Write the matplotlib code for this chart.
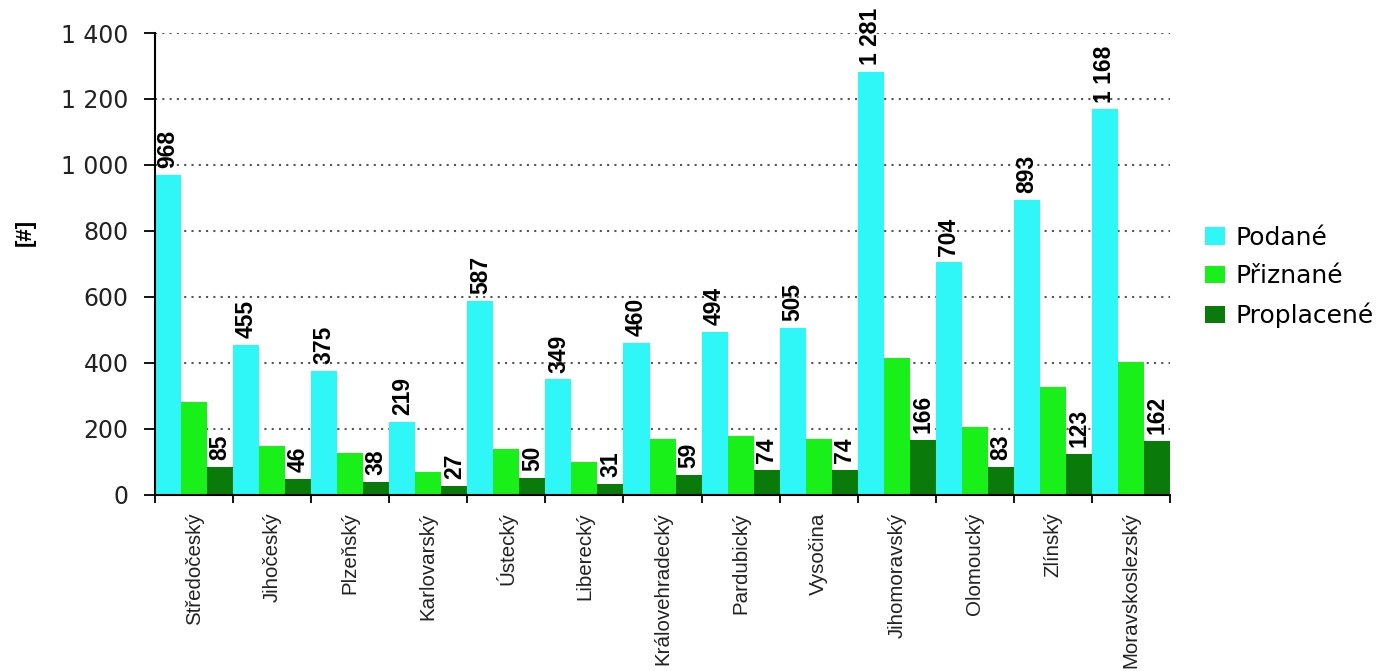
# -*- coding: utf-8 -*-

"""
Output: out.png
Podané / Přiznané / Proplacené by region
"""

### 0 ### Imports

import matplotlib
matplotlib.use("Agg")
import numpy as np
import matplotlib.pyplot as plt
from matplotlib.patches import Patch

plt.rcParams['savefig.facecolor'] = 'white'
plt.rcParams['font.family'] = ['DejaVu Sans']

# data
regions = ["Středočeský", "Jihočeský", "Plzeňský", "Karlovarský", "Ústecký",
           "Liberecký", "Královehradecký", "Pardubický", "Vysočina",
           "Jihomoravský", "Olomoucký", "Zlínský", "Moravskoslezský"]
series_names = ["Podané", "Přiznané", "Proplacené"]
podane = [968, 455, 375, 219, 587, 349, 460, 494, 505, 1281, 704, 893, 1168]
priznane = [280, 147, 125, 69, 137, 99, 167, 177, 167, 415, 204, 325, 402]
proplacene = [85, 46, 38, 27, 50, 31, 59, 74, 74, 166, 83, 123, 162]
yticks = [0, 200, 400, 600, 800, 1000, 1200, 1400]

colors = ['#2ff7f7', '#19f019', '#0a7a0a']
labelled = [True, False, True]


### 1 ### Figure

fig = plt.figure(figsize=(13.83, 6.71), dpi=100)
ax = fig.add_axes([0.1121, 0.263, 0.7339, 0.6878])

x = np.arange(len(regions))
w = 1 / 3
for k, (vals, col) in enumerate(zip([podane, priznane, proplacene], colors)):
    bars = ax.bar(x + (k - 1) * w, vals, width=w, color=col, zorder=2)
    if labelled[k]:
        for b, v in zip(bars, vals):
            ax.annotate(f"{v:,}".replace(",", " "),
                        (b.get_x() + b.get_width() / 2, v),
                        xytext=(0, 5), textcoords='offset points',
                        rotation=90, ha='center', va='bottom',
                        fontsize=16.5, fontweight='bold',
                        family='Liberation Sans', annotation_clip=False)

# axes
ax.set_xlim(-0.5, len(regions) - 0.5)
ax.set_ylim(0, 1400)
ax.set_yticks(yticks)
ax.set_yticklabels([f"{v:,}".replace(",", " ") for v in yticks])
ax.tick_params(axis='y', direction='out', length=8, width=1.3, pad=11,
               labelsize=17, labelcolor='#222222')

ax.set_xticks(x)
ax.set_xticklabels(regions, rotation=90, family='Liberation Sans',
                   fontsize=14.8, color='#222222', va='top')
ax.tick_params(axis='x', which='major', length=0, pad=13)
ax.set_xticks(np.arange(len(regions) + 1) - 0.5, minor=True)
ax.tick_params(axis='x', which='minor', direction='out', length=6, width=1.3)

for s in ['top', 'right']:
    ax.spines[s].set_visible(False)
for s in ['left', 'bottom']:
    ax.spines[s].set_linewidth(1.5)
    ax.spines[s].set_zorder(3)

ax.yaxis.grid(True, linestyle=(0, (1, 2.5)), color='#555555', linewidth=1.5, zorder=1)
ax.set_axisbelow(True)

fig.text(25 / 1383, 1 - 232 / 671, "[#]", rotation=90, ha='center', va='center',
         fontsize=16, fontweight='bold', family='Liberation Sans')

# legend
handles = [Patch(facecolor=c, edgecolor='none') for c in colors]
fig.legend(handles, series_names, loc='center left',
           bbox_to_anchor=(1205 / 1383, 1 - 277 / 671), frameon=False,
           fontsize=18, handlelength=0.8, handleheight=0.68,
           handletextpad=0.4, labelspacing=0.58, borderpad=0,
           borderaxespad=0)


### 2 ### Export and save
plt.savefig('out.png', dpi=100)
